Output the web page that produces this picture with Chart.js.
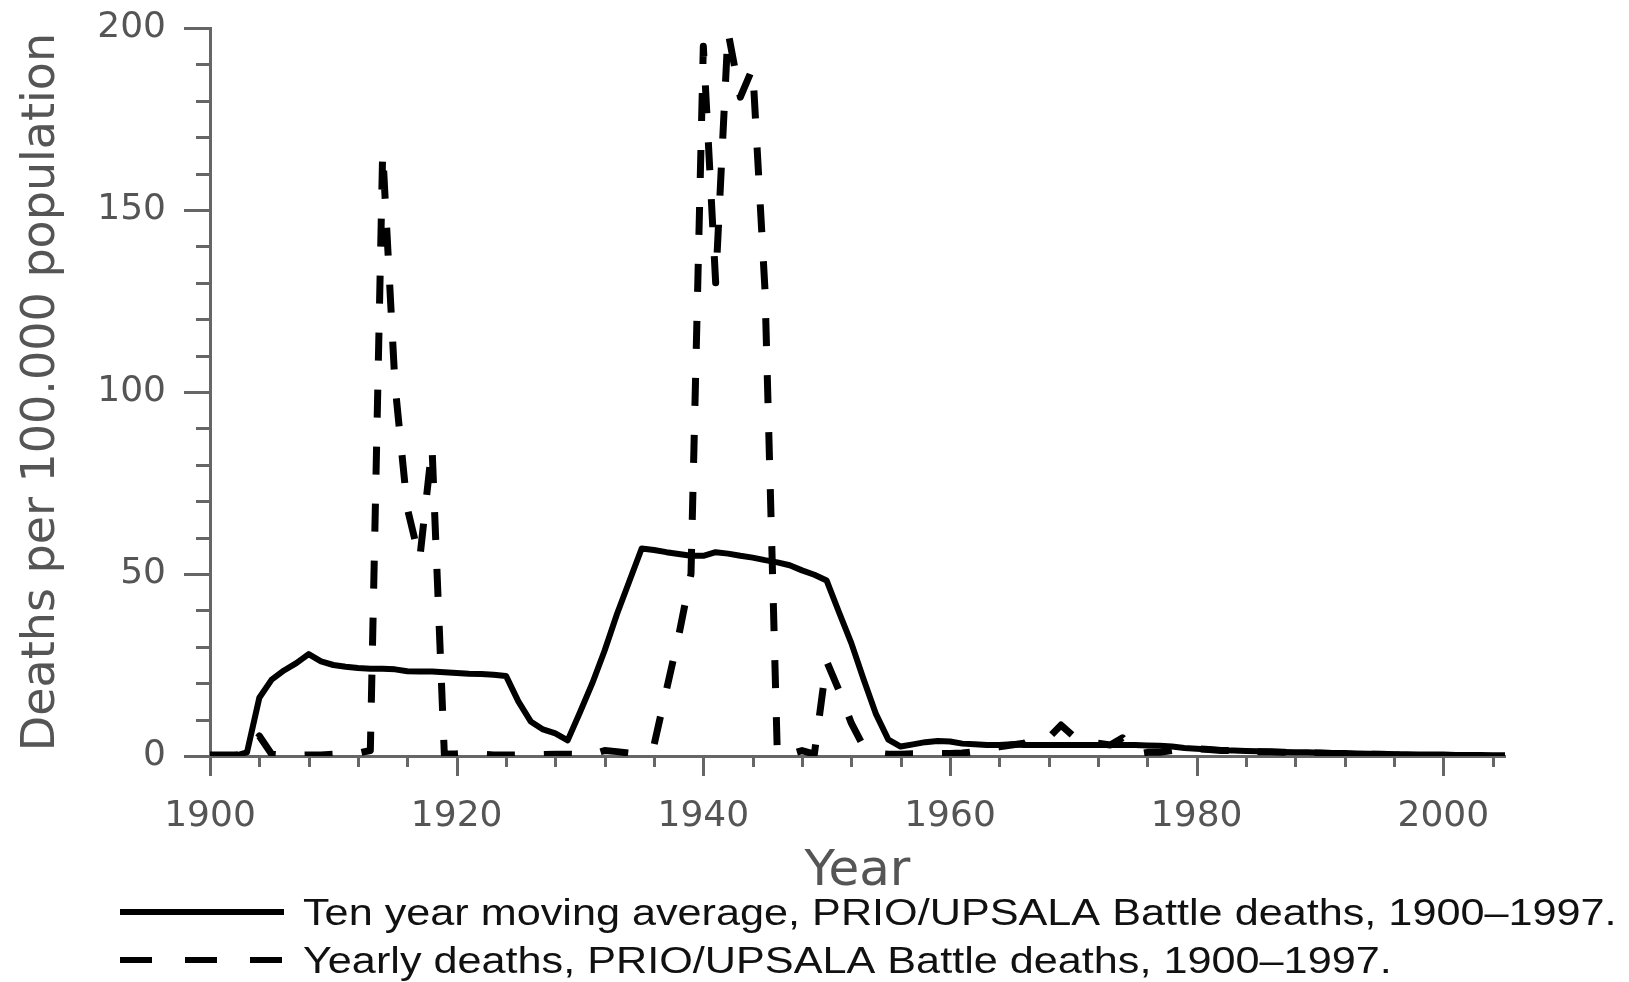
<!DOCTYPE html>
<html>
<head>
<meta charset="utf-8">
<title>Battle deaths per 100.000 population</title>
<script src="https://cdn.jsdelivr.net/npm/chart.js@4.4.1/dist/chart.umd.min.js"></script>
<style>
  html, body { margin: 0; padding: 0; background: #fff; }
  #wrap { width: 1629px; height: 982px; }
</style>
</head>
<body>
<div id="wrap"><canvas id="chart" width="1629" height="982"></canvas></div>
<script>
// values (deaths per 100.000 population)
const avgYears = [];
for (let y = 1900; y <= 2005; y++) avgYears.push(y);
const avgDeaths = [
  0, 0, 0, 1, 16, 21, 23.5, 25.5, 28, 26,                 // 1900-1909
  25, 24.5, 24.2, 24, 24, 23.8, 23.3, 23.2, 23.2, 23,      // 1910-1919
  22.8, 22.6, 22.5, 22.3, 22, 15, 9.5, 7.3, 6.2, 4.3,      // 1920-1929
  12, 20, 29, 39, 48, 57, 56.6, 56, 55.5, 55,              // 1930-1939
  55, 56, 55.6, 55, 54.5, 53.8, 53.2, 52.4, 51, 49.8,      // 1940-1949
  48.2, 39.5, 31, 21, 11.5, 4.5, 2.6, 3.2, 3.8, 4.1,       // 1950-1959
  4, 3.4, 3.2, 3, 3, 3.2, 3, 3, 3, 3,                      // 1960-1969
  3, 3, 3, 3, 3, 3, 2.9, 2.8, 2.6, 2.2,                    // 1970-1979
  2, 1.8, 1.6, 1.5, 1.4, 1.3, 1.2, 1.1, 1, 1,              // 1980-1989
  0.9, 0.8, 0.8, 0.7, 0.6, 0.6, 0.5, 0.5, 0.4, 0.4,        // 1990-1999
  0.4, 0.3, 0.3, 0.3, 0.2, 0.2                             // 2000-2005
];

const yearlyYears = [];
for (let y = 1900; y <= 1997; y++) yearlyYears.push(y);
const yearlyDeaths = [
  0.3, 0.3, 0.3, 0.5, 5.5, 0.5, 0.2, 0.2, 0.3, 0.3,        // 1900-1909
  0.5, 0.6, 0.8, 1.5, 166, 102, 68, 54, 85, 0.5,           // 1910-1919
  0.6, 0.8, 0.5, 0.3, 0.3, 0.3, 0.4, 0.4, 0.5, 0.5,        // 1920-1929
  0.4, 0.5, 1.5, 1.2, 0.8, 1, 3, 18, 33, 50,               // 1930-1939
  195, 130, 199, 181, 189, 128, 0.5, 0.5, 1.5, 0.5,        // 1940-1949
  26, 18, 9, 2.5, 0.8, 0.5, 0.5, 0.6, 0.6, 0.7,            // 1950-1959
  0.7, 0.8, 1.2, 2, 2.5, 3, 3.5, 5.5, 5, 8.5,              // 1960-1969
  5.5, 6, 3.5, 3, 5, 0.5, 1, 1, 1.5, 1.8,                  // 1970-1979
  2, 1.8, 1.5, 1.5, 1.5, 1.2, 1.2, 1, 1, 0.8,              // 1980-1989
  0.8, 0.7, 0.6, 0.6, 0.5, 0.4, 0.3, 0.3                   // 1990-1997
];

const seriesLabels = [
  'Ten year moving average, PRIO/UPSALA Battle deaths, 1900\u20131997.',
  'Yearly deaths, PRIO/UPSALA Battle deaths, 1900\u20131997.'
];
const xMajorTicks = [1900, 1920, 1940, 1960, 1980, 2000];
const yMajorTicks = [0, 50, 100, 150, 200];

const axisColor = '#666';
const labelColor = '#555';

function points(xs, ys){ return xs.map((x, i) => ({x: x, y: ys[i]})); }

// major / minor tick marks, drawn from the scales' own ticks
const tickMarks = {
  id: 'tickMarks',
  afterDraw(chart){
    const {ctx, scales: {x, y}} = chart;
    ctx.save();
    ctx.strokeStyle = axisColor;
    ctx.lineWidth = 3;
    ctx.beginPath();
    x.ticks.forEach(t => {
      const px = Math.round(x.getPixelForValue(t.value)) + 0.5;
      const len = xMajorTicks.includes(t.value) ? 20 : 11;
      ctx.moveTo(px, x.top); ctx.lineTo(px, x.top + len);
    });
    y.ticks.forEach(t => {
      const py = Math.round(y.getPixelForValue(t.value)) + 0.5;
      const len = yMajorTicks.includes(t.value) ? 26 : 14;
      ctx.moveTo(y.right - len, py); ctx.lineTo(y.right, py);
    });
    ctx.stroke();
    ctx.restore();
  }
};

// legend under the axis title: line sample + label, one row per series
const lineLegend = {
  id: 'lineLegend',
  afterDraw(chart){
    const ctx = chart.ctx;
    chart.data.datasets.forEach((ds, i) => {
      const yMid = 912 + i * 48;
      ctx.save();
      ctx.strokeStyle = ds.borderColor;
      ctx.lineWidth = 6;
      ctx.setLineDash(ds.legendDash);
      ctx.beginPath();
      ctx.moveTo(120, yMid); ctx.lineTo(284, yMid);
      ctx.stroke();
      ctx.setLineDash([]);
      ctx.fillStyle = '#111';
      ctx.font = '36px "Liberation Sans", Arial, sans-serif';
      ctx.textBaseline = 'alphabetic';
      ctx.translate(303, yMid + 13);
      ctx.scale(1.2, 1);
      ctx.fillText(ds.label, 0, 0);
      ctx.restore();
    });
  }
};

new Chart(document.getElementById('chart'), {
  type: 'line',
  data: {
    datasets: [
      {
        label: seriesLabels[0],
        data: points(avgYears, avgDeaths),
        borderColor: '#000',
        borderWidth: 6,
        borderJoinStyle: 'round',
        pointRadius: 0,
        tension: 0,
        legendDash: []
      },
      {
        label: seriesLabels[1],
        data: points(yearlyYears, yearlyDeaths),
        borderColor: '#000',
        borderWidth: 7,
        borderDash: [28, 29],
        borderCapStyle: 'butt',
        borderJoinStyle: 'round',
        pointRadius: 0,
        tension: 0,
        legendDash: [32, 33]
      }
    ]
  },
  options: {
    responsive: false,
    animation: false,
    layout: { padding: { top: 28, right: 124, left: 0, bottom: 0 } },
    plugins: { legend: { display: false }, tooltip: { enabled: false } },
    scales: {
      x: {
        type: 'linear',
        min: 1900,
        max: 2005,
        border: { display: true, color: axisColor, width: 3 },
        grid: { display: false, drawTicks: false },
        ticks: {
          stepSize: 4,
          includeBounds: false,
          autoSkip: false,
          maxRotation: 0,
          padding: 39,
          color: labelColor,
          font: { family: '"DejaVu Sans"', size: 36 },
          callback: v => xMajorTicks.includes(v) ? String(v) : ''
        },
        title: {
          display: true,
          text: 'Year',
          color: labelColor,
          font: { family: '"DejaVu Sans"', size: 50 },
          padding: { top: 0, bottom: 80 }
        },
        afterFit: s => { s.height = 226; }
      },
      y: {
        min: 0,
        max: 200,
        border: { display: true, color: axisColor, width: 3 },
        grid: { display: false, drawTicks: false },
        ticks: {
          stepSize: 10,
          autoSkip: false,
          padding: 44,
          color: labelColor,
          font: { family: '"DejaVu Sans"', size: 36 },
          callback: v => yMajorTicks.includes(v) ? String(v) : ''
        },
        title: {
          display: true,
          text: 'Deaths per 100.000 population',
          color: labelColor,
          font: { family: '"DejaVu Sans"', size: 46 },
          padding: { top: 14, bottom: 0 }
        },
        afterFit: s => { s.width = 210; s.paddingTop = 0; s.paddingBottom = 0; }
      }
    }
  },
  plugins: [tickMarks, lineLegend]
});
</script>
</body>
</html>
